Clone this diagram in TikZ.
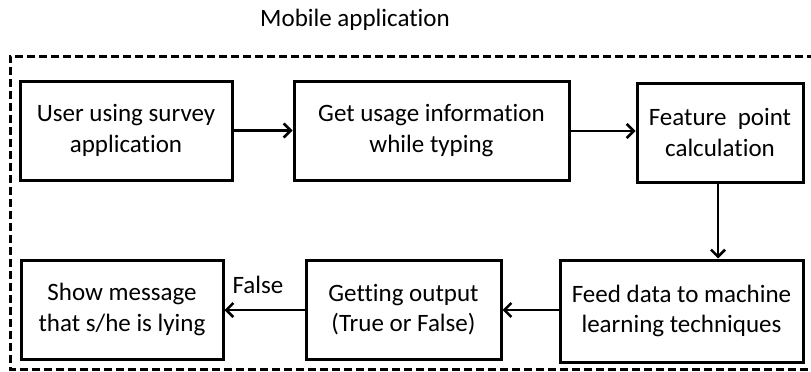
\documentclass[tikz,border=0pt]{standalone}
\usepackage{fontspec}
\setmainfont[Ligatures=NoCommon]{Carlito}
\usetikzlibrary{arrows.meta}
\tikzset{
  stepbox/.style={draw=black, line width=3pt, rectangle, inner sep=0pt, align=center,
    font=\fontsize{25}{30.5}\selectfont},
  flow/.style={line width=2.6pt, -{Straight Barb[length=7pt,width=14pt,line width=2.6pt]}},
  lbl/.style={font=\fontsize{25}{30.5}\selectfont, inner sep=0pt},
  frame/.style={line width=3pt, dash pattern=on 8pt off 4pt}
}
\begin{document}
\begin{tikzpicture}[x=1pt,y=-1pt]
\useasboundingbox (0,0) rectangle (811,372);
% outer dashed frame (right side lies outside the picture)
\draw[frame] (815,56) -- (10,56) -- (10,369) -- (815,369);
\node[lbl] (title) at (355,20) {Mobile application};
% top row
\node[stepbox, minimum width=212pt, minimum height=99pt] (user) at (126,130.5) {User using survey\\application};
\node[stepbox, minimum width=275pt, minimum height=99pt] (usage) at (431.5,130.5) {Get usage information\\while typing};
\node[stepbox, minimum width=166pt, minimum height=99pt] (feat) at (720,132.5) {Feature\ \ point\\calculation};
% bottom row
\node[stepbox, minimum width=243pt, minimum height=102pt] (feed) at (681.5,311) {Feed data to machine\\learning techniques};
\node[stepbox, minimum width=195pt, minimum height=99pt] (out) at (403.5,309.5) {Getting output\\(True or False)};
\node[stepbox, minimum width=202pt, minimum height=99pt] (show) at (122,309.5) {Show message\\that s/he is lying};
% connectors
\draw[flow] (user.east |- 0,130.5) -- (usage.west |- 0,130.5);
\draw[flow] (usage.east |- 0,131) -- (feat.west |- 0,131);
\draw[flow] (feat.south -| 718,0) -- (feed.north -| 718,0);
\draw[flow] (feed.west |- 0,310) -- (out.east |- 0,310);
\draw[flow] (out.west |- 0,310) -- (show.east |- 0,310);
\node[lbl] (false) at (258,285) {False};
\end{tikzpicture}
\end{document}
